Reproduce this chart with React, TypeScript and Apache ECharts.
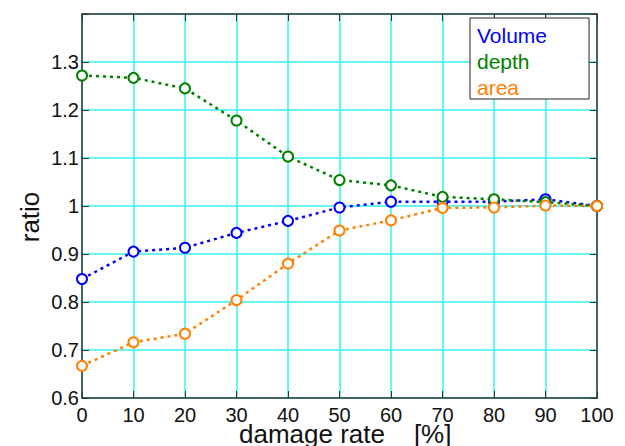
import React, { useEffect, useRef } from "react";
import * as echarts from "echarts";

const damageRates = [0, 10, 20, 30, 40, 50, 60, 70, 80, 90, 100];
const volumeRatio = [0.848, 0.905, 0.913, 0.944, 0.969, 0.997, 1.009, 1.009, 1.009, 1.014, 1.0];
const depthRatio = [1.272, 1.267, 1.245, 1.178, 1.103, 1.054, 1.043, 1.019, 1.014, 1.008, 1.0];
const areaRatio = [0.667, 0.716, 0.734, 0.804, 0.88, 0.949, 0.97, 0.996, 0.997, 1.001, 1.0];
const seriesNames = ["Volume", "depth", "area"];
const seriesColors = ["#0000ff", "#008000", "#ff8000"];
const xTitle = "damage rate    [%]";
const yTitle = "ratio";

const FONT = "'Liberation Sans', Arial, Helvetica, sans-serif";
const AXIS_COLOR = "#333333";
const GRID_COLOR = "#33f2f2";

export default function App() {
  const ref = useRef<HTMLDivElement>(null);

  useEffect(() => {
    if (!ref.current) return;
    const chart = echarts.init(ref.current, null, { renderer: "svg" });
    const allData = [volumeRatio, depthRatio, areaRatio];

    const series = allData.map((vals, i) => ({
      name: seriesNames[i],
      type: "line",
      data: damageRates.map((x, j) => [x, vals[j]]),
      symbol: "emptyCircle",
      symbolSize: 10,
      showAllSymbol: true,
      color: seriesColors[i],
      lineStyle: { color: seriesColors[i], width: 2.5, type: [3, 4] },
      itemStyle: { color: seriesColors[i], borderColor: seriesColors[i], borderWidth: 2 },
      emphasis: { disabled: true },
      xAxisIndex: 0,
      yAxisIndex: 0,
    }));

    const baseAxis = {
      axisLine: { show: true, onZero: false, lineStyle: { color: AXIS_COLOR, width: 1.5 } },
      axisTick: { show: true, inside: true, length: 7, lineStyle: { color: AXIS_COLOR, width: 1 } },
    };

    chart.setOption({
      animation: false,
      textStyle: { fontFamily: FONT },
      grid: { left: 82, right: 28, top: 14, bottom: 48, containLabel: false },
      legend: {
        orient: "vertical",
        left: 470,
        top: 18,
        padding: [7, 42, 1, 1],
        itemGap: 5,
        itemWidth: 0,
        itemHeight: 0,
        icon: "rect",
        borderColor: "#222222",
        borderWidth: 1,
        backgroundColor: "#ffffff",
        selectedMode: false,
        data: seriesNames.map((n, i) => ({
          name: n,
          textStyle: { color: seriesColors[i], fontSize: 21, fontFamily: FONT },
        })),
      },
      xAxis: [
        {
          ...baseAxis,
          type: "value",
          min: 0,
          max: 100,
          interval: 10,
          position: "bottom",
          axisLabel: { color: "#111111", fontSize: 20, margin: 7, fontFamily: FONT },
          splitLine: { show: true, lineStyle: { color: GRID_COLOR, width: 1.5 } },
        },
        {
          ...baseAxis,
          type: "value",
          min: 0,
          max: 100,
          interval: 10,
          position: "top",
          axisLabel: { show: false },
          splitLine: { show: false },
        },
      ],
      yAxis: [
        {
          ...baseAxis,
          type: "value",
          min: 0.6,
          max: 1.4,
          interval: 0.1,
          position: "left",
          axisLabel: {
            color: "#111111",
            fontSize: 20,
            margin: 3,
            fontFamily: FONT,
            formatter: (v: number) => (v > 1.35 ? "" : String(Math.round(v * 10) / 10)),
          },
          splitLine: { show: true, lineStyle: { color: GRID_COLOR, width: 1.5 } },
        },
        {
          ...baseAxis,
          type: "value",
          min: 0.6,
          max: 1.4,
          interval: 0.1,
          position: "right",
          axisLabel: { show: false },
          splitLine: { show: false },
        },
      ],
      graphic: [
        {
          type: "text",
          x: 239,
          y: 443,
          style: {
            text: xTitle,
            fill: "#111111",
            font: `26px ${FONT}`,
            lineHeight: 18,
            align: "left",
            verticalAlign: "bottom",
          },
          z: 10,
        },
        {
          type: "text",
          x: 30,
          y: 217,
          rotation: Math.PI / 2,
          style: {
            text: yTitle,
            fill: "#111111",
            font: `26px ${FONT}`,
            align: "center",
            verticalAlign: "middle",
          },
          z: 10,
        },
      ],
      series,
    });

    return () => chart.dispose();
  }, []);

  return (
    <div
      ref={ref}
      style={{ position: "fixed", left: 0, top: 0, width: 625, height: 446, background: "#ffffff" }}
    />
  );
}
